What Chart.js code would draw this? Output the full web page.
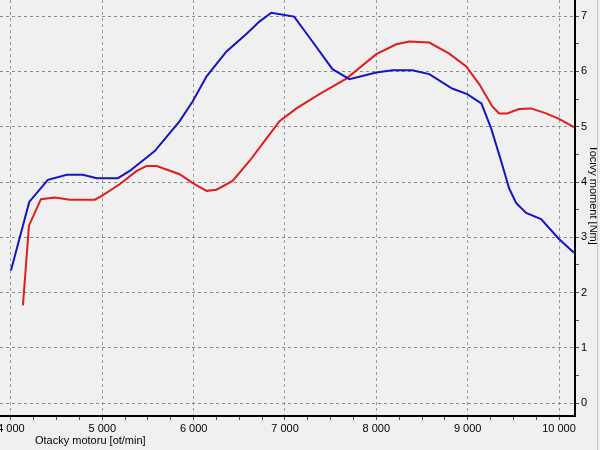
<!DOCTYPE html>
<html>
<head>
<meta charset="utf-8">
<script src="https://cdn.jsdelivr.net/npm/chart.js@4"></script>
<style>
html,body{margin:0;padding:0;background:#f0f0f0}
#wrap{position:relative;width:600px;height:450px}
</style>
</head>
<body>
<div id="wrap"><canvas id="c" width="600" height="450"></canvas></div>
<script>
// blue curve (rpm / Nm)
const blueRpm=[4000,4200,4404,4612,4787,4940,5170,5300,5574,5847,5990,6142,6360,6580,6720,6850,7100,7300,7520,7705,8000,8175,8393,8580,8830,8995,9150,9257,9366,9453,9530,9640,9803,10000,10164];
const blueNm=[2.40,3.64,4.04,4.13,4.13,4.07,4.07,4.20,4.56,5.10,5.46,5.91,6.36,6.68,6.90,7.06,6.99,6.54,6.04,5.86,5.98,6.02,6.02,5.95,5.69,5.59,5.42,4.97,4.38,3.89,3.62,3.44,3.33,2.97,2.72];
// red curve
const redRpm=[4131,4197,4328,4481,4645,4918,4995,5190,5377,5486,5595,5847,5990,6142,6250,6426,6612,6798,6940,7126,7377,7672,8000,8219,8361,8580,8798,8984,9126,9268,9344,9432,9563,9694,9858,10000,10164];
const redNm=[1.77,3.21,3.69,3.72,3.68,3.68,3.75,3.96,4.20,4.29,4.29,4.14,3.98,3.84,3.86,4.02,4.38,4.79,5.10,5.33,5.59,5.87,6.31,6.49,6.54,6.52,6.32,6.09,5.77,5.37,5.24,5.24,5.32,5.33,5.24,5.14,4.99];

// axis ticks (major), minor ticks get added in between
const xMajor=[4000,5000,6000,7000,8000,9000,10000];
const yMajor=[0,1,2,3,4,5,6,7];
const xTitle="Otacky motoru [ot/min]";
const yTitle="Tocivy moment [Nm]";
const FONT="'Liberation Sans', Arial, sans-serif";

const pts=(xs,ys)=>xs.map((x,i)=>({x,y:ys[i]}));
const fmtK=v=>String(v).replace(/\B(?=(\d{3})+(?!\d))/g," ");
// major + minor (n sub-steps) tick list
function withMinor(major,n,lo,hi){
  const st=(major[1]-major[0])/n,out=[];
  for(let v=major[0]-st*Math.floor((major[0]-lo)/st);v<=hi;v+=st)out.push({value:Math.round(v*1000)/1000,major:major.includes(Math.round(v*1000)/1000)});
  return out;
}

// titles + window edge, drawn on top
const deco={id:"deco",afterDraw(ch){const c=ch.ctx;c.save();
  c.fillStyle="#000";c.font="11px "+FONT;c.textBaseline="middle";c.textAlign="left";
  c.fillText(xTitle,35,441);
  c.translate(593,195);c.rotate(Math.PI/2);c.textAlign="center";c.fillText(yTitle,0,0);
  c.restore();
  c.save();c.strokeStyle="#c8c8c8";c.lineWidth=1;c.beginPath();c.moveTo(597.5,0);c.lineTo(597.5,450);c.stroke();c.restore();
}};

new Chart(document.getElementById("c"),{type:"line",
  data:{datasets:[
    {data:pts(blueRpm,blueNm),borderColor:"#1414c4",borderWidth:2,pointRadius:0,tension:0,fill:false},
    {data:pts(redRpm,redNm),borderColor:"#e01c1c",borderWidth:2,pointRadius:0,tension:0,fill:false}
  ]},
  options:{responsive:false,animation:false,layout:{padding:0},
    plugins:{legend:{display:false},tooltip:{enabled:false}},
    scales:{
      x:{type:"linear",min:3880,max:10175,
        afterFit:s=>{s.height=34;s.paddingLeft=0;s.paddingRight=0},
        afterBuildTicks:s=>{s.ticks=withMinor(xMajor,4,3880,10175)},
        ticks:{autoSkip:false,maxRotation:0,color:"#000",font:{family:FONT,size:11},padding:2,
          callback:v=>xMajor.includes(v)?fmtK(v):""},
        grid:{color:ctx=>ctx.tick&&xMajor.includes(ctx.tick.value)?"#9a9a9a":"rgba(0,0,0,0)",lineWidth:1,tickLength:4,tickColor:"#555"},
        border:{color:"#000",width:2,dash:[3,3]}},
      y:{type:"linear",position:"right",min:-0.23,max:7.29,
        afterFit:s=>{s.width=25;s.paddingTop=0;s.paddingBottom=0},
        afterBuildTicks:s=>{s.ticks=withMinor(yMajor,2,-0.23,7.29)},
        ticks:{autoSkip:false,color:"#000",font:{family:FONT,size:11},padding:2,
          callback:v=>yMajor.includes(v)?String(v):""},
        grid:{color:ctx=>ctx.tick&&yMajor.includes(ctx.tick.value)?"#8a8a8a":"rgba(0,0,0,0)",lineWidth:1,tickLength:4,tickColor:"#555"},
        border:{color:"#000",width:2,dash:[3,3]}}
    }},
  plugins:[deco]});
</script>
</body>
</html>
